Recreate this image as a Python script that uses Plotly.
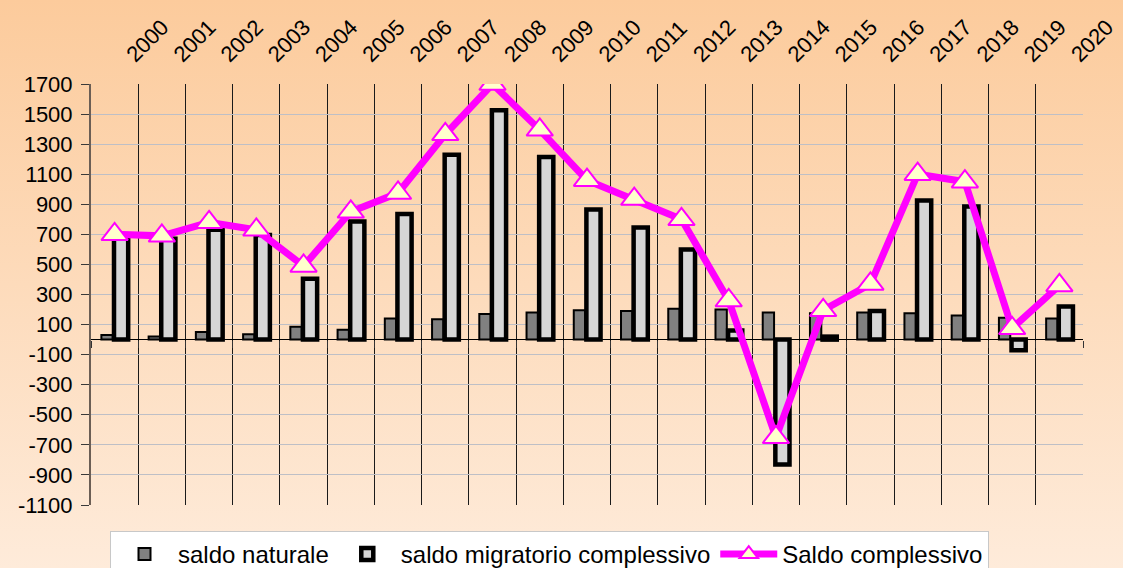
import base64
import plotly.graph_objects as go

# ---------------- data ----------------
years = [str(y) for y in range(2000, 2021)]
saldo_naturale = [30, 20, 50, 35, 85, 65, 140, 135, 170, 180, 195, 190, 205, 200, 180, 175, 180, 175, 160, 145, 140]
saldo_migratorio = [670, 670, 730, 695, 405, 785, 835, 1230, 1525, 1215, 865, 745, 600, 60, -830, 20, 190, 925, 885, -70, 220]
saldo_complessivo = [700, 690, 780, 730, 490, 850, 975, 1365, 1700, 1395, 1060, 935, 800, 260, -650, 195, 370, 1100, 1050, 75, 360]
y_ticks = list(range(-1100, 1701, 200))

W, H = 1123, 568
L, R, T, B = 91, 40, 84, 63
pw, ph = W - L - R, H - T - B
FONT = "Liberation Sans, Arial, sans-serif"

svg = (
    '<svg xmlns="http://www.w3.org/2000/svg" width="100" height="100" preserveAspectRatio="none">'
    '<defs><linearGradient id="g" x1="0" y1="0" x2="0" y2="1">'
    '<stop offset="0" stop-color="#FCCB9C"/><stop offset="1" stop-color="#FEEBDA"/>'
    '</linearGradient></defs><rect width="100" height="100" fill="url(#g)"/></svg>'
)
bg_src = "data:image/svg+xml;base64," + base64.b64encode(svg.encode()).decode()

fig = go.Figure()
fig.add_trace(go.Bar(
    x=years, y=saldo_naturale, name="saldo naturale",
    marker=dict(color="#808080", line=dict(color="#000000", width=2)),
    offset=-0.28, width=0.24,
))
fig.add_trace(go.Bar(
    x=years, y=saldo_migratorio, name="saldo migratorio complessivo",
    marker=dict(color="#D6D6D6", line=dict(color="#000000", width=4.5)),
    offset=-0.013, width=0.30,
))
fig.add_trace(go.Scatter(
    x=years, y=saldo_complessivo, name="Saldo complessivo", mode="lines+markers",
    line=dict(color="#FF00FF", width=7),
    marker=dict(symbol="triangle-up", size=23, color="#FFFFCC",
                line=dict(color="#FF00FF", width=2)),
    xaxis="x2",
))

zero_pos = (0 - y_ticks[0]) / (y_ticks[-1] - y_ticks[0])

fig.update_layout(
    width=W, height=H,
    margin=dict(l=L, r=R, t=T, b=B, autoexpand=False),
    paper_bgcolor="#FEEBDA", plot_bgcolor="rgba(0,0,0,0)",
    font=dict(family=FONT, color="#000000", size=22),
    barmode="overlay",
    showlegend=True,
    legend=dict(
        orientation="h", x=(110 - L) / pw, xanchor="left",
        y=(H - B - 531) / ph, yanchor="top",
        bgcolor="#FFFFFF", bordercolor="#C8C8C8", borderwidth=1,
        font=dict(family=FONT, size=24, color="#000000"),
        traceorder="normal", itemwidth=57,
    ),
    images=[dict(
        source=bg_src, xref="paper", yref="paper",
        x=-L / pw, y=1 + T / ph, sizex=W / pw, sizey=H / ph,
        xanchor="left", yanchor="top", sizing="stretch", layer="below",
    )],
    xaxis=dict(
        type="category", side="top", tickangle=-45, tickson="boundaries",
        showgrid=True, gridcolor="#1A1A1A", gridwidth=1,
        ticks="", showline=False, zeroline=False,
        tickfont=dict(family=FONT, size=22),
        ticklabelstandoff=12, ticklabelshift=13,
        range=[-0.5, len(years) - 0.5],
    ),
    xaxis2=dict(
        type="category", overlaying="x", anchor="free", position=zero_pos,
        tickson="boundaries", ticks="outside", ticklen=7, tickcolor="#333333",
        showticklabels=False, showgrid=False, showline=False, zeroline=False,
        range=[-0.5, len(years) - 0.5],
    ),
    yaxis=dict(
        range=[y_ticks[0], y_ticks[-1]], tickvals=y_ticks,
        ticktext=[str(v) for v in y_ticks],
        showgrid=True, gridcolor="#BEBFC6", gridwidth=1,
        zeroline=True, zerolinecolor="#000000", zerolinewidth=1.2,
        showline=True, linecolor="#6B5E55", linewidth=2,
        ticks="outside", ticklen=8, tickcolor="#3A3A3A",
        tickfont=dict(family=FONT, size=22), ticklabelstandoff=4,
    ),
)

fig.write_html(
    "out.html",
    config={"displayModeBar": False},
    post_script="document.body.style.margin='0';document.body.style.overflow='hidden';",
)
